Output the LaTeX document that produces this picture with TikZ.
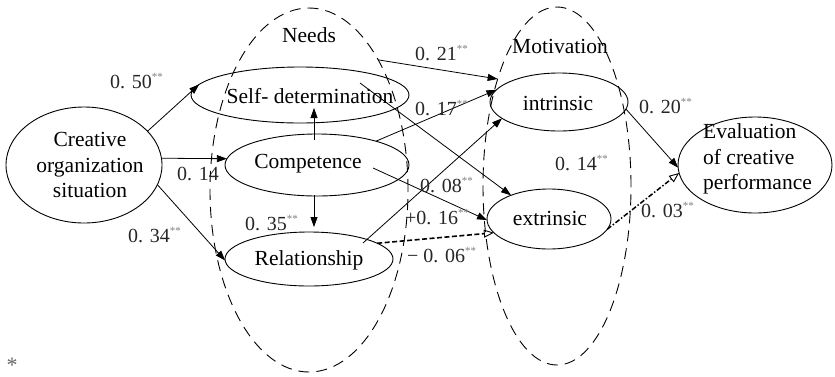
\documentclass[tikz,border=0pt]{standalone}
\usepackage{fontspec}
\setmainfont{Liberation Serif}
\usetikzlibrary{shapes.geometric,arrows.meta}
\newcommand\sig{\textsuperscript{\color{black!50}\fontsize{11}{11}\selectfont **}}
\begin{document}
\begin{tikzpicture}[x=1pt,y=-1pt,
 ell/.style={draw, ellipse, inner sep=0pt, outer sep=0pt, line width=0.9pt},
 dashell/.style={ell, dash pattern=on 11pt off 7pt},
 txt/.style={font=\fontsize{21.5}{25.5}\selectfont, inner sep=0pt, align=center},
 lab/.style={font=\fontsize{20}{22}\selectfont, inner sep=0pt, anchor=base west, text=black!85},
 arr/.style={line width=0.8pt, -{Triangle[length=10pt,width=7pt]}},
 darr/.style={line width=1.6pt, dash pattern=on 5pt off 2.5pt, -{Triangle[open,length=10pt,width=8pt,line width=0.9pt]}},
 ddarr/.style={line width=1.5pt, dash pattern=on 5pt off 2pt on 1.5pt off 2pt, -{Triangle[open,length=10pt,width=8pt,line width=0.9pt]}}
]
\useasboundingbox (0,0) rectangle (835,376);
% group ellipses
\node[dashell, minimum width=198pt, minimum height=364pt] (needs) at (309,190) {};
\node[dashell, minimum width=148pt, minimum height=358pt] (motiv) at (557,186) {};
% variable ellipses
\node[ell, minimum width=156pt, minimum height=116pt] (co) at (84,165) {};
\node[ell, minimum width=218pt, minimum height=56pt] (sd) at (300,95) {};
\node[ell, minimum width=184pt, minimum height=62pt] (comp) at (317,165) {};
\node[ell, minimum width=168pt, minimum height=54pt] (rel) at (309,259) {};
\node[ell, minimum width=138pt, minimum height=58pt] (intr) at (559,102) {};
\node[ell, minimum width=124pt, minimum height=60pt] (extr) at (549,219) {};
\node[ell, minimum width=154pt, minimum height=96pt] (eval) at (755,165) {};
% texts
\node[txt] (cot) at (90,165) {Creative\\organization\\situation};
\node[txt] (sdt) at (310,96) {Self- determination};
\node[txt] (compt) at (308,164) {Competence};
\node[txt] (relt) at (309,260) {Relationship};
\node[txt] (intrt) at (558,103) {intrinsic};
\node[txt] (extrt) at (550,218) {extrinsic};
\node[txt, align=left, anchor=west] (evalt) at (703,159) {Evaluation\\of creative\\performance};
\node[txt] (needst) at (309,35) {Needs};
\node[txt] (motivt) at (560,46) {Motivation};
% connectors
\draw[arr] (co.28) -- (sd.174);
\draw[arr] (co.5) -- (comp.176);
\draw[arr] (co.-15) -- (rel.181);
\draw[arr] ([shift={(-3,6)}]comp.north) -- ([shift={(14,-15)}]sd.south);
\draw[arr] ([shift={(-3,-1)}]comp.south) -- ([shift={(5,-5)}]rel.north);
\draw[arr] (needs.62) -- (motiv.119);
\draw[arr] (comp.22) -- (intr.169);
\draw[arr] ([shift={(60,-12)}]sd.center) -- (extr.148);
\draw[arr] ([shift={(54,-16)}]rel.center) -- (intr.196);
\draw[arr] ([shift={(56,3)}]comp.center) -- (extr.181);
\draw[darr] (rel.13) -- (extr.194);
\draw[arr] (intr.-6) -- (eval.182);
\draw[ddarr] (extr.-10) -- (eval.186);
% labels
\node[lab] (l50) at (110,88) {0. 50\sig};
\node[lab] (l14a) at (177,180) {0. 14};
\node[lab] (l34) at (128,242) {0. 34\sig};
\node[lab] (l35) at (245,230) {0. 35\sig};
\node[lab] (l21) at (415,60) {0. 21\sig};
\node[lab] (l17) at (415,115) {0. 17\sig};
\node[lab] (l14b) at (555,170) {0. 14\sig};
\node[lab] (l20) at (639,113) {0. 20\sig};
\node[lab] (l08) at (420,192) {0. 08\sig};
\node[lab] (l16) at (405,224) {+0. 16\sig};
\node[lab] (l06) at (407,262) {− 0. 06\sig};
\node[lab] (l03) at (641,217) {0. 03\sig};
\node[lab, anchor=base, text=black!60, font=\fontsize{22}{22}\selectfont] (star) at (12,372) {*};
\end{tikzpicture}
\end{document}
